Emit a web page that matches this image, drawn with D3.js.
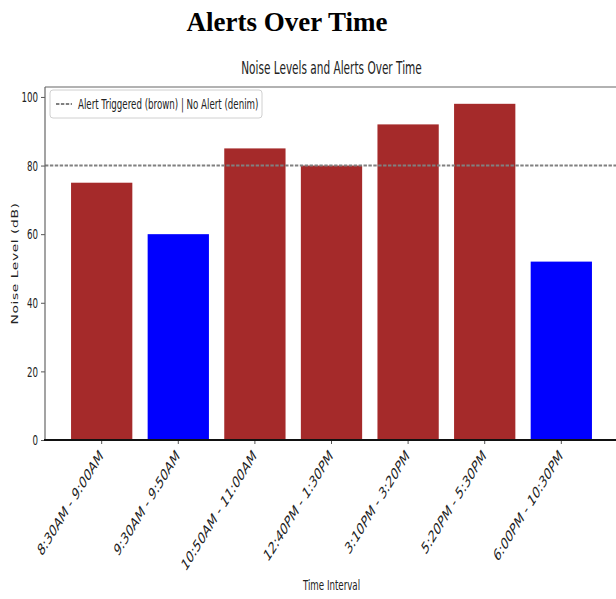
<!DOCTYPE html>
<html>
<head>
<meta charset="utf-8">
<script src="https://cdn.jsdelivr.net/npm/d3@7"></script>
<style>
  body { margin: 0; background: #fff; }
  svg text { font-family: "DejaVu Sans", sans-serif; fill: #222; }
</style>
</head>
<body>
<svg id="chart" width="616" height="599"></svg>
<script>
// data
const intervals = ["8:30AM - 9:00AM", "9:30AM - 9:50AM", "10:50AM - 11:00AM", "12:40PM - 1:30PM",
                   "3:10PM - 3:20PM", "5:20PM - 5:30PM", "6:00PM - 10:30PM"];
const noiseLevels = [75, 60, 85, 80, 92, 98, 52];
const alertTriggered = [true, false, true, true, true, true, false];
const yTickValues = [0, 20, 40, 60, 80, 100];
const alertThreshold = 80;

const data = intervals.map((d, i) => ({ interval: d, level: noiseLevels[i], alert: alertTriggered[i] }));

// the plot picture is squeezed horizontally, so text is too
const sx = 0.62;
const squeeze = (x, y, rot) => `translate(${x},${y}) scale(${sx},1)` + (rot ? ` rotate(${rot})` : "");

const margin = { top: 87, right: -2, bottom: 159, left: 45 };
const W = 616, H = 599;

const svg = d3.select("#chart");

// page heading
svg.append("text")
    .attr("x", 287)
    .attr("y", 31)
    .attr("text-anchor", "middle")
    .style("font-family", "'Liberation Serif', 'Times New Roman', serif")
    .style("font-weight", "bold")
    .style("font-size", "27px")
    .style("fill", "#000")
    .text("Alerts Over Time");

const x = d3.scaleBand()
    .domain(intervals)
    .range([margin.left, W - margin.right])
    .paddingInner(0.2)
    .paddingOuter(0.34);

const y = d3.scaleLinear()
    .domain([0, 102.9])
    .range([H - margin.bottom, margin.top]);

const x0 = margin.left, x1 = W - margin.right;
const yb = y(0), yt = margin.top;

// bars
svg.selectAll(".bar")
    .data(data)
    .enter()
    .append("rect")
    .attr("class", "bar")
    .attr("x", d => x(d.interval))
    .attr("y", d => y(d.level))
    .attr("width", x.bandwidth())
    .attr("height", d => yb - y(d.level))
    .attr("fill", d => d.alert ? "#a52a2a" : "#0000ff");

// threshold line
svg.append("line")
    .attr("x1", x0).attr("x2", x1)
    .attr("y1", y(alertThreshold)).attr("y2", y(alertThreshold))
    .attr("stroke", "#808080")
    .attr("stroke-width", 2)
    .attr("stroke-dasharray", "3.4,1.5");

// y axis
const yAxis = svg.append("g")
    .attr("transform", `translate(${x0},0)`)
    .call(d3.axisLeft(y).tickValues(yTickValues).tickSize(4).tickPadding(3));
yAxis.select(".domain").remove();
yAxis.selectAll(".tick line").attr("stroke", "#555");
yAxis.selectAll(".tick text")
    .attr("x", null).attr("dy", null)
    .attr("transform", function() { return `translate(-7,0) scale(${sx},1)`; })
    .attr("dominant-baseline", "central")
    .style("font-size", "14px")
    .style("fill", "#222");

// x axis
const xAxis = svg.append("g")
    .attr("transform", `translate(0,${yb})`)
    .call(d3.axisBottom(x).tickSize(4).tickPadding(3));
xAxis.select(".domain").remove();
xAxis.selectAll(".tick line").attr("stroke", "#555");
xAxis.selectAll(".tick text")
    .attr("y", null).attr("dy", null)
    .attr("text-anchor", "end")
    .attr("transform", squeeze(2, 17, -45))
    .style("font-size", "16.5px")
    .style("fill", "#222");

// spines
svg.append("line").attr("x1", x0).attr("x2", x0).attr("y1", yt).attr("y2", yb)
    .attr("stroke", "#666").attr("stroke-width", 1.2);
svg.append("line").attr("x1", x0).attr("x2", x1).attr("y1", yt).attr("y2", yt)
    .attr("stroke", "#666").attr("stroke-width", 1.2);
svg.append("line").attr("x1", x0 - 1).attr("x2", x1).attr("y1", yb).attr("y2", yb)
    .attr("stroke", "#111").attr("stroke-width", 2);

// chart title
svg.append("text")
    .attr("transform", squeeze((x0 + x1) / 2, 74))
    .attr("text-anchor", "middle")
    .style("font-size", "17px")
    .text("Noise Levels and Alerts Over Time");

// axis labels
svg.append("text")
    .attr("transform", squeeze((x0 + x1) / 2, 590))
    .attr("text-anchor", "middle")
    .style("font-size", "14px")
    .text("Time Interval");

svg.append("text")
    .attr("transform", squeeze(18, (yt + yb) / 2, -90))
    .attr("text-anchor", "middle")
    .style("font-size", "14px")
    .style("letter-spacing", "0.5px")
    .text("Noise Level (dB)");

// legend
const legend = svg.append("g").attr("transform", "translate(50,90)");
legend.append("rect")
    .attr("width", 212).attr("height", 28).attr("rx", 3)
    .attr("fill", "#fff").attr("stroke", "#d0d0d0");
legend.append("line")
    .attr("x1", 6).attr("x2", 22).attr("y1", 14).attr("y2", 14)
    .attr("stroke", "#808080").attr("stroke-width", 2)
    .attr("stroke-dasharray", "3.4,1.5");
legend.append("text")
    .attr("transform", squeeze(28, 19))
    .style("font-size", "14px")
    .text("Alert Triggered (brown) | No Alert (denim)");
</script>
</body>
</html>
